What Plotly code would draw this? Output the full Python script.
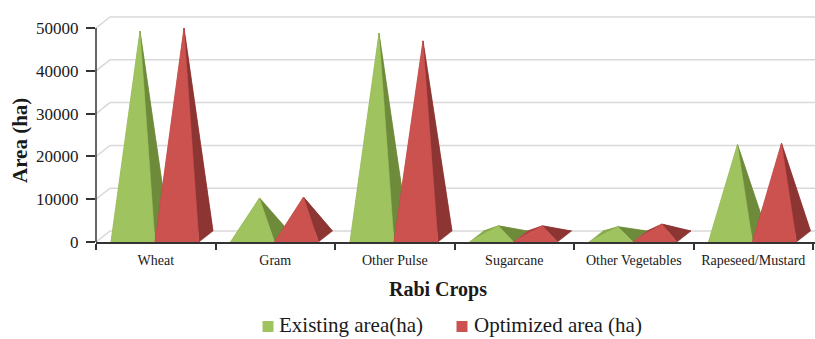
import plotly.graph_objects as go

# ---- data -------------------------------------------------------------
crops = ["Wheat", "Gram", "Other Pulse", "Sugarcane", "Other Vegetables", "Rapeseed/Mustard"]
existing_area = [48000, 9000, 47500, 2500, 2300, 21500]
optimized_area = [48700, 9200, 45700, 2500, 2900, 21800]
y_ticks = [0, 10000, 20000, 30000, 40000, 50000]

series = [
    ("Existing area(ha)", existing_area,
     {"front": "#9FC35E", "right": "#6E8B3C", "left": "#88AA4C", "back": "#7D9C44"}),
    ("Optimized area (ha)", optimized_area,
     {"front": "#CB524F", "right": "#8C3533", "left": "#AC4441", "back": "#9E3D3B"}),
]

# ---- layout geometry ----------------------------------------------------
W, H = 815, 339
L, R, T, B = 96, 0, 8, 97
PX_PER_CAT = 119.5
PX_PER_UNIT = 214 / 50000
X_MAX = (W - L - R) / PX_PER_CAT
Y_MAX = (H - T - B) / PX_PER_UNIT

DEPTH_X = 14 / PX_PER_CAT      # receding depth, in category units
DEPTH_Y = 11 / PX_PER_UNIT     # receding depth, in value units
BASE_W = 44 / PX_PER_CAT       # pyramid base width
EDGE_GAP = 15 / PX_PER_CAT     # gap between category edge and first pyramid

FONT = "Liberation Serif, Times New Roman, serif"
INK = "#1a1a1a"
GRID = "#D9D9D9"


def px_x(px):
    return (px - L) / (W - L - R)


def px_y(py):
    return (H - B - py) / (H - T - B)


fig = go.Figure()

# back wall / floor gridlines, pushed back by the depth offset
gx, gy = [], []
for v in y_ticks:
    gx += [0, DEPTH_X, X_MAX + 1, None]
    gy += [v, v + DEPTH_Y, v + DEPTH_Y, None]
fig.add_trace(go.Scatter(x=gx, y=gy, mode="lines", line=dict(color=GRID, width=1.5),
                         hoverinfo="skip", showlegend=False))


def face(xs, ys, color, name):
    fig.add_trace(go.Scatter(
        x=xs + [xs[0]], y=ys + [ys[0]], mode="lines", fill="toself",
        fillcolor=color, line=dict(color=color, width=0.5),
        hoverinfo="skip", showlegend=False, name=name))


# 3-D pyramids: back, left, right, then front face of each
for i, crop in enumerate(crops):
    for s, (name, values, col) in enumerate(series):
        v = values[i]
        xl = i + EDGE_GAP + s * BASE_W
        xr = xl + BASE_W
        fl = (xl, 0)
        fr = (xr, 0)
        bl = (xl + DEPTH_X, DEPTH_Y)
        br = (xr + DEPTH_X, DEPTH_Y)
        apex = ((xl + xr) / 2 + DEPTH_X / 2, v + DEPTH_Y / 2)
        for pts, key in ((
                (bl, br, apex), "back"), ((fl, bl, apex), "left"),
                ((fr, br, apex), "right"), ((fl, fr, apex), "front")):
            face([p[0] for p in pts], [p[1] for p in pts], col[key], name)
        # hover point at the apex
        fig.add_trace(go.Scatter(x=[apex[0]], y=[apex[1]], mode="markers",
                                 marker=dict(size=1, opacity=0), name=name,
                                 hovertemplate=f"{crop}<br>{name}: %{{customdata}}<extra></extra>",
                                 customdata=[v], showlegend=False))

# vertical axis line (front plane, 0 .. 50000)
fig.add_shape(type="line", xref="paper", yref="y", x0=0, x1=0, y0=0, y1=y_ticks[-1],
              line=dict(color="#333333", width=1.5))

# legend swatches + labels
legend_items = [(262.5, 277, series[0]), (456.5, 472, series[1])]
for sx, tx, (name, _, col) in legend_items:
    fig.add_shape(type="rect", xref="paper", yref="paper",
                  x0=px_x(sx), x1=px_x(sx + 11), y0=px_y(332), y1=px_y(321),
                  fillcolor=col["front"], line=dict(width=0))
    fig.add_annotation(text=name, xref="paper", yref="paper", x=px_x(tx), y=px_y(325),
                       xanchor="left", yanchor="middle", showarrow=False,
                       font=dict(family=FONT, size=21, color=INK))

# axis titles
fig.add_annotation(text="<b>Rabi Crops</b>", xref="paper", yref="paper",
                   x=px_x(438), y=px_y(289), xanchor="center", yanchor="middle",
                   showarrow=False, font=dict(family=FONT, size=20, color=INK))
fig.add_annotation(text="<b>Area (ha)</b>", xref="paper", yref="paper",
                   x=px_x(20), y=px_y(141), xanchor="center", yanchor="middle",
                   textangle=-90, showarrow=False, font=dict(family=FONT, size=21, color=INK))

fig.update_layout(
    width=W, height=H,
    margin=dict(l=L, r=R, t=T, b=B),
    paper_bgcolor="white", plot_bgcolor="white",
    showlegend=False,
    xaxis=dict(
        range=[0, X_MAX], showgrid=False, zeroline=False,
        showline=True, linecolor="#333333", linewidth=1.5,
        tickmode="array", tickvals=[i + 0.5 for i in range(len(crops))], ticktext=crops,
        ticks="", ticklabelstandoff=4,
        tickfont=dict(family=FONT, size=14, color=INK),
        minor=dict(tickmode="array", tickvals=list(range(len(crops) + 1)),
                   ticks="outside", ticklen=6, tickwidth=1.5, tickcolor="#333333"),
    ),
    yaxis=dict(
        range=[0, Y_MAX], showgrid=False, zeroline=False, showline=False,
        tickmode="array", tickvals=y_ticks, ticktext=[str(v) for v in y_ticks],
        ticks="outside", ticklen=9, tickwidth=1.5, tickcolor="#333333",
        ticklabelstandoff=4,
        tickfont=dict(family=FONT, size=17, color=INK),
    ),
)

fig.write_html("out.html")
